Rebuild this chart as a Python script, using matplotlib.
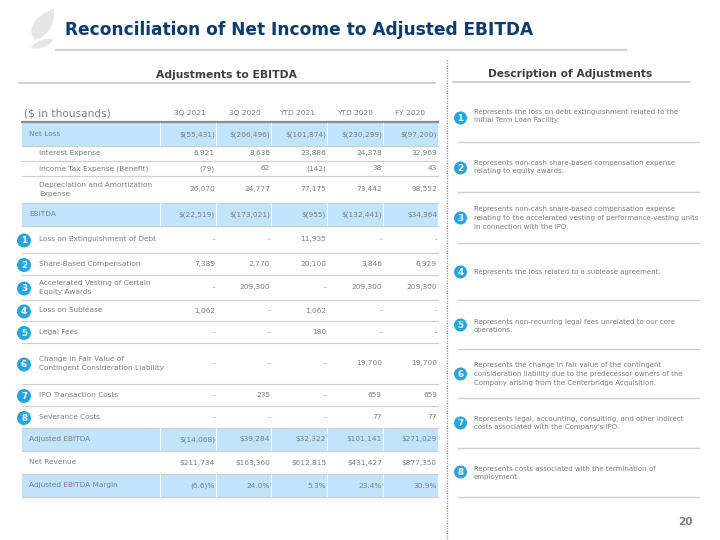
import matplotlib
matplotlib.use("Agg")
import matplotlib.pyplot as plt
from matplotlib.patches import Circle, Rectangle, PathPatch
from matplotlib.path import Path

plt.rcParams['font.family'] = ['DejaVu Sans']

# ---------------- data ----------------
title = "Reconciliation of Net Income to Adjusted EBITDA"
left_heading = "Adjustments to EBITDA"
right_heading = "Description of Adjustments"
unit_label = "($ in thousands)"
columns = ["3Q 2021", "3Q 2020", "YTD 2021", "YTD 2020", "FY 2020"]

net_loss = ["$(55,431)", "$(206,496)", "$(101,874)", "$(230,299)", "$(97,200)"]
interest = ["6,921", "8,636", "23,886", "24,378", "32,969"]
income_tax = ["(79)", "62", "(142)", "38", "43"]
dep_amort = ["26,070", "24,777", "77,175", "73,442", "98,552"]
ebitda = ["$(22,519)", "$(173,021)", "$(955)", "$(132,441)", "$34,364"]
loss_debt = ["-", "-", "11,935", "-", "-"]
share_comp = ["7,389", "2,770", "20,100", "3,846", "6,929"]
accel_vest = ["-", "209,300", "-", "209,300", "209,300"]
sublease = ["1,062", "-", "1,062", "-", "-"]
legal_fees = ["-", "-", "180", "-", "-"]
fair_value = ["-", "-", "-", "19,700", "19,700"]
ipo_costs = ["-", "235", "-", "659", "659"]
severance = ["-", "-", "-", "77", "77"]
adj_ebitda = ["$(14,068)", "$39,284", "$32,322", "$101,141", "$271,029"]
net_revenue = ["$211,734", "$163,360", "$612,815", "$431,427", "$877,350"]
adj_margin = ["(6.6)%", "24.0%", "5.3%", "23.4%", "30.9%"]

row_labels = ["Net Loss", "Interest Expense", "Income Tax Expense (Benefit)",
              "Depreciation and Amortization\nExpense", "EBITDA",
              "Loss on Extinguishment of Debt", "Share-Based Compensation",
              "Accelerated Vesting of Certain\nEquity Awards", "Loss on Sublease",
              "Legal Fees", "Change in Fair Value of\nContingent Consideration Liability",
              "IPO Transaction Costs", "Severance Costs", "Adjusted EBITDA",
              "Net Revenue", "Adjusted EBITDA Margin"]
row_values = [net_loss, interest, income_tax, dep_amort, ebitda, loss_debt,
              share_comp, accel_vest, sublease, legal_fees, fair_value,
              ipo_costs, severance, adj_ebitda, net_revenue, adj_margin]
row_badges = [None, None, None, None, None, "1", "2", "3", "4", "5", "6", "7", "8",
              None, None, None]
row_blue = [True, False, False, False, True, False, False, False, False, False,
            False, False, False, True, False, True]
row_indent = [False, True, True, True, False, False, False, False, False, False,
              False, False, False, False, False, False]

descriptions = [
    "Represents the loss on debt extinguishment related to the\nInitial Term Loan Facility.",
    "Represents non-cash share-based compensation expense\nrelating to equity awards.",
    "Represents non-cash share-based compensation expense\nrelating to the accelerated vesting of performance-vesting units\nin connection with the IPO.",
    "Represents the loss related to a sublease agreement.",
    "Represents non-recurring legal fees unrelated to our core\noperations.",
    "Represents the change in fair value of the contingent\nconsideration liability due to the predecessor owners of the\nCompany arising from the Centerbridge Acquisition.",
    "Represents legal, accounting, consulting, and other indirect\ncosts associated with the Company's IPO.",
    "Represents costs associated with the termination of\nemployment.",
]
desc_badges = ["1", "2", "3", "4", "5", "6", "7", "8"]
page_number = "20"

# ---------------- layout ----------------
W, H = 720, 540
fig = plt.figure(figsize=(7.2, 5.4), dpi=100)
ax = fig.add_axes([0, 0, 1, 1])
ax.set_xlim(0, W)
ax.set_ylim(H, 0)
ax.axis("off")

NAVY = "#0B3C6B"
HEAD = "#3F3F3F"
GRAY = "#7F7F7F"
BLUE = "#BFE4FB"
BADGE = "#2AA4DD"
LINE = "#D0D0D0"
body_fs = 5.3

fig.canvas.draw()
renderer = fig.canvas.get_renderer()


def fit(t, width):
    bb = t.get_window_extent(renderer=renderer)
    t.set_fontsize(t.get_fontsize() * width / bb.width)


def badge(x, y, label, r=7.0):
    ax.add_patch(Circle((x, y), r, facecolor=BADGE, edgecolor="none", zorder=5))
    ax.text(x, y + 0.3, label, color="white", fontsize=6.3, fontweight="bold",
            ha="center", va="center", zorder=6)


# leaf logo
codes = [Path.MOVETO, Path.CURVE4, Path.CURVE4, Path.CURVE4,
         Path.CURVE4, Path.CURVE4, Path.CURVE4, Path.CLOSEPOLY]
verts = [(35, 40), (27, 33), (32, 15), (54, 9),
         (55, 22), (51, 35), (35, 40), (35, 40)]
ax.add_patch(PathPatch(Path(verts, codes), facecolor="#E6E6E6", edgecolor="none"))
verts2 = [(31, 48), (35, 41), (45, 38), (53, 39),
          (51, 46), (41, 50), (31, 48), (31, 48)]
ax.add_patch(PathPatch(Path(verts2, codes), facecolor="#E6E6E6", edgecolor="none"))

# title
t = ax.text(65, 30, title, color=NAVY, fontsize=14, fontweight="bold",
            ha="left", va="center")
fit(t, 470)
ax.plot([55, 627], [50, 50], color="#D3D3D3", lw=1.6, solid_capstyle="butt")

# headings
t = ax.text(227, 75, left_heading, color=HEAD, fontsize=8, fontweight="bold",
            ha="center", va="center")
fit(t, 141)
ax.plot([19, 435], [83, 83], color="#C8C8C8", lw=1.2)
t = ax.text(570, 74, right_heading, color=HEAD, fontsize=8, fontweight="bold",
            ha="center", va="center")
fit(t, 163)
ax.plot([453, 690], [82, 82], color="#C8C8C8", lw=1.2)

# divider
ax.plot([446.5, 446.5], [60, 540], color="#9A9A9A", lw=0.9, ls=(0, (1, 1)))

# table header
ax.text(24, 113, unit_label, color=GRAY, fontsize=7.6, ha="left", va="center")
col_centers = [190, 245, 297, 355, 410]
for cx, c in zip(col_centers, columns):
    ax.text(cx, 113, c, color=GRAY, fontsize=body_fs, ha="center", va="center")
ax.plot([22, 438], [122, 122], color="#8C8C8C", lw=1.6)

row_edges = [123, 146, 161, 176, 203, 226, 253, 275, 300, 321, 343, 384, 406,
             428, 451, 474, 497]
col_right = [215, 270, 326, 382, 437]
col_seps = [160, 215.5, 271, 327, 383]
TL, TR = 22, 438

for i, (lab, vals) in enumerate(zip(row_labels, row_values)):
    top, bot = row_edges[i], row_edges[i + 1]
    cy = (top + bot) / 2
    if row_blue[i]:
        ax.add_patch(Rectangle((TL, top), TR - TL, bot - top, facecolor=BLUE,
                               edgecolor="none", zorder=1))
        for sx in col_seps:
            ax.plot([sx, sx], [top, bot], color="white", lw=0.8, zorder=2)
    ax.plot([TL, TR], [bot, bot], color=LINE, lw=0.9, zorder=2)
    lx = 39 if (row_indent[i] or row_badges[i]) else 29
    ax.text(lx, cy, lab, color=GRAY, fontsize=body_fs, ha="left", va="center",
            linespacing=1.45, zorder=3)
    for rx, v in zip(col_right, vals):
        ax.text(rx, cy, v, color=GRAY, fontsize=body_fs, ha="right", va="center",
                zorder=3)
    if row_badges[i]:
        badge(24, cy + 1, row_badges[i])

# descriptions
desc_centers = [116, 167, 218, 272, 326, 374, 423, 473]
desc_badge_y = [118, 168, 218, 272, 325, 374, 423, 472]
desc_lines = [142, 192, 243, 300, 349, 398, 448, 497]
for d, b, cy, by, ly in zip(descriptions, desc_badges, desc_centers, desc_badge_y,
                            desc_lines):
    ax.text(474, cy, d, color=GRAY, fontsize=5.05, ha="left", va="center",
            linespacing=1.55)
    badge(460.5, by, b, r=6.5)
    ax.plot([458, 699], [ly, ly], color=LINE, lw=1.0)

ax.text(693, 522, page_number, color="#7F7F7F", fontsize=7.5, fontweight="bold",
        ha="right", va="center")

fig.savefig("out.png", dpi=100)
